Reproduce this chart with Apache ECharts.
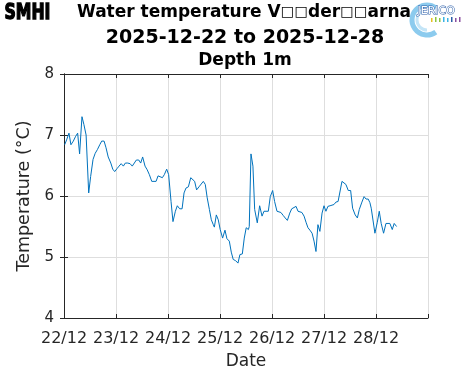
<!DOCTYPE html>
<html>
<head>
<meta charset="utf-8">
<script src="https://cdn.jsdelivr.net/npm/echarts@6/dist/echarts.min.js"></script>
<style>html,body{margin:0;padding:0;background:#fff;}#chart{width:471px;height:371px;}</style>
</head>
<body>
<div id="chart"></div>
<script>
// hours since 2025-12-22 00:00
const hours = [0.3,1.2,2.3,3.2,4.3,5.4,6.3,7.2,8.3,9.2,10.2,11.4,12.3,13.4,14.4,15.4,16.5,17.4,18.5,19.4,20.4,21.6,22.5,23.4,
24.5,25.4,26.4,27.4,28.3,29.4,30.5,31.5,32.4,33.4,34.5,35.4,36.3,37.4,38.4,39.4,40.5,41.4,42.5,43.4,44.3,45.4,46.3,47.4,
48.3,49.4,50.3,51.4,52.3,53.4,54.5,55.4,56.3,57.4,58.5,59.4,60.3,61.2,62.3,63.2,64.3,65.2,66.1,67.1,68.0,68.9,69.4,70.3,71.2,
72.1,73.2,74.3,75.2,76.3,77.2,78.1,79.2,80.3,81.2,82.3,83.2,84.1,85.1,85.5,86.3,87.2,88.0,89.2,90.3,91.4,92.3,93.2,94.3,95.2,
96.3,97.2,98.3,99.2,100.1,101.2,102.1,103.1,104.2,105.1,106.0,107.1,108.0,108.9,109.8,110.8,111.7,112.6,113.5,114.5,115.4,116.3,117.2,118.1,119.1,
120.0,120.9,121.8,122.8,123.7,124.6,125.5,126.5,127.4,128.3,129.2,130.1,131.2,132.3,133.2,134.4,135.4,136.3,137.5,138.5,139.4,140.4,141.2,141.8,142.6,143.5,
144.6,145.5,146.4,147.5,148.6,149.5,150.4,151.5,152.4,153.5];
const temps = [6.84,6.92,7.03,6.84,6.90,6.98,7.03,6.69,7.30,7.17,7.00,6.05,6.32,6.60,6.70,6.76,6.84,6.90,6.90,6.79,6.64,6.54,6.44,6.40,
6.45,6.49,6.53,6.49,6.54,6.54,6.53,6.49,6.49,6.59,6.59,6.54,6.64,6.49,6.43,6.35,6.24,6.24,6.24,6.33,6.30,6.30,6.35,6.44,
6.35,5.91,5.58,5.75,5.84,5.79,5.79,6.05,6.13,6.15,6.30,6.30,6.24,6.10,6.15,6.15,6.24,6.19,5.97,5.78,5.61,5.53,5.49,5.69,5.61,
5.45,5.31,5.44,5.30,5.26,5.08,4.96,4.94,4.90,5.04,5.05,5.31,5.48,5.45,5.50,6.69,6.49,5.78,5.56,5.84,5.67,5.75,5.75,5.75,5.99,
6.09,5.91,5.75,5.75,5.73,5.68,5.64,5.60,5.72,5.79,5.79,5.83,5.75,5.73,5.73,5.67,5.57,5.48,5.44,5.39,5.26,5.09,5.53,5.42,5.72,
5.84,5.75,5.83,5.84,5.84,5.86,5.90,5.91,5.94,6.24,6.24,6.19,6.09,6.09,5.80,5.69,5.64,5.78,5.90,5.99,5.95,5.95,5.89,5.80,5.83,5.39,
5.57,5.75,5.55,5.39,5.55,5.55,5.55,5.45,5.55,5.50];
const dayLabels = ['22/12','23/12','24/12','25/12','26/12','27/12','28/12',''];
const yTicks = [4,5,6,7,8];
const titleLine1 = 'Water temperature V{b|\u25a1\u25a1}der{b|\u25a1\u25a1}arna';
const titleLine2 = '2025-12-22 to 2025-12-28';
const titleLine3 = 'Depth 1m';

const AX = '#262626';
const chart = echarts.init(document.getElementById('chart'), null, {renderer:'canvas'});
const xBase = {
  type:'value', min:0, max:168, interval:24,
  axisLine:{show:true, lineStyle:{color:AX, width:1}},
  axisTick:{show:true, inside:true, length:4, lineStyle:{color:AX}},
  splitLine:{show:false}
};
const yBase = {
  type:'value', min:4, max:8, interval:1,
  axisLine:{show:true, lineStyle:{color:AX, width:1}},
  axisTick:{show:true, inside:true, length:4, lineStyle:{color:AX}},
  splitLine:{show:false}
};
const tStyle = (fs)=>({fontFamily:'DejaVu Sans', fontWeight:'bold', fontSize:fs, color:'#000'});
chart.setOption({
  animation:false,
  backgroundColor:'#fff',
  title:[
    {text:titleLine1, left:244, top:4, textAlign:'center', padding:0,
     textStyle:Object.assign(tStyle(17), {rich:{b:{fontFamily:'DejaVu Sans', fontSize:14.5, color:'#000'}}})},
    {text:titleLine2, left:245, top:29, textAlign:'center', padding:0, textStyle:tStyle(19)},
    {text:titleLine3, left:245, top:52, textAlign:'center', padding:0, textStyle:tStyle(17)}
  ],
  grid:{left:64, top:74, right:43, bottom:53, containLabel:false, outerBoundsMode:'none'},
  xAxis:[
    Object.assign({}, xBase, {
      position:'bottom',
      splitLine:{show:true, lineStyle:{color:'#dedede', width:1}},
      axisLabel:{show:true, margin:13, color:AX, fontFamily:'DejaVu Sans', fontSize:16,
        formatter:(v)=>dayLabels[Math.round(v/24)]},
      name:'Date', nameLocation:'middle', nameGap:35,
      nameTextStyle:{color:AX, fontFamily:'DejaVu Sans', fontSize:17}
    }),
    Object.assign({}, xBase, {position:'top', axisLabel:{show:false}})
  ],
  yAxis:[
    Object.assign({}, yBase, {
      position:'left',
      splitLine:{show:true, lineStyle:{color:'#dedede', width:1}},
      axisLabel:{show:true, margin:10, color:AX, fontFamily:'DejaVu Sans', fontSize:15,
        formatter:(v)=> yTicks.includes(v) ? String(v) : ''},
      name:'Temperature (\u00b0C)', nameLocation:'middle', nameGap:25,
      nameTextStyle:{color:AX, fontFamily:'DejaVu Sans', fontSize:17.5}
    }),
    Object.assign({}, yBase, {position:'right', axisLabel:{show:false}})
  ],
  series:[{
    type:'line', xAxisIndex:0, yAxisIndex:0,
    data: hours.map((h,i)=>[h, temps[i]]),
    showSymbol:false, symbol:'none',
    lineStyle:{color:'#0072BD', width:1},
    itemStyle:{color:'#0072BD'}
  }],
  graphic:[
    {type:'text', left:4, top:2, style:{text:'SMHI', fontFamily:'DejaVu Sans Condensed', fontWeight:'bold', fontSize:21, fill:'#000', stroke:'#000', lineWidth:1.3}, scaleX:0.83},
    {type:'arc', shape:{cx:427, cy:20, r:15, startAngle:Math.PI*0.3, endAngle:Math.PI*1.7}, style:{stroke:'#8ccbee', lineWidth:5, fill:'none'}},
    {type:'arc', shape:{cx:427, cy:20, r:10, startAngle:Math.PI*0.5, endAngle:Math.PI*1.3}, style:{stroke:'#c4e5f7', lineWidth:3, fill:'none'}},
    {type:'text', left:417, top:5, style:{text:'JERICO', fontFamily:'DejaVu Sans', fontSize:11, fill:'#ffffff', stroke:'#2a5da8', lineWidth:1}},
    {type:'rect', shape:{x:431, y:18, width:1.5, height:4}, style:{fill:'#e8c020'}},
    {type:'rect', shape:{x:435, y:17, width:1.5, height:5}, style:{fill:'#8cc63f'}},
    {type:'rect', shape:{x:439, y:18, width:1.5, height:4}, style:{fill:'#8cc63f'}},
    {type:'rect', shape:{x:443, y:17, width:1.5, height:5}, style:{fill:'#3bb4e5'}},
    {type:'rect', shape:{x:447, y:18, width:1.5, height:4}, style:{fill:'#3bb4e5'}},
    {type:'rect', shape:{x:451, y:17, width:1.5, height:5}, style:{fill:'#2a5da8'}},
    {type:'rect', shape:{x:455, y:18, width:1.5, height:4}, style:{fill:'#8a4fa0'}},
    {type:'rect', shape:{x:459, y:17, width:1.5, height:5}, style:{fill:'#8a4fa0'}}
  ]
});
</script>
</body>
</html>
